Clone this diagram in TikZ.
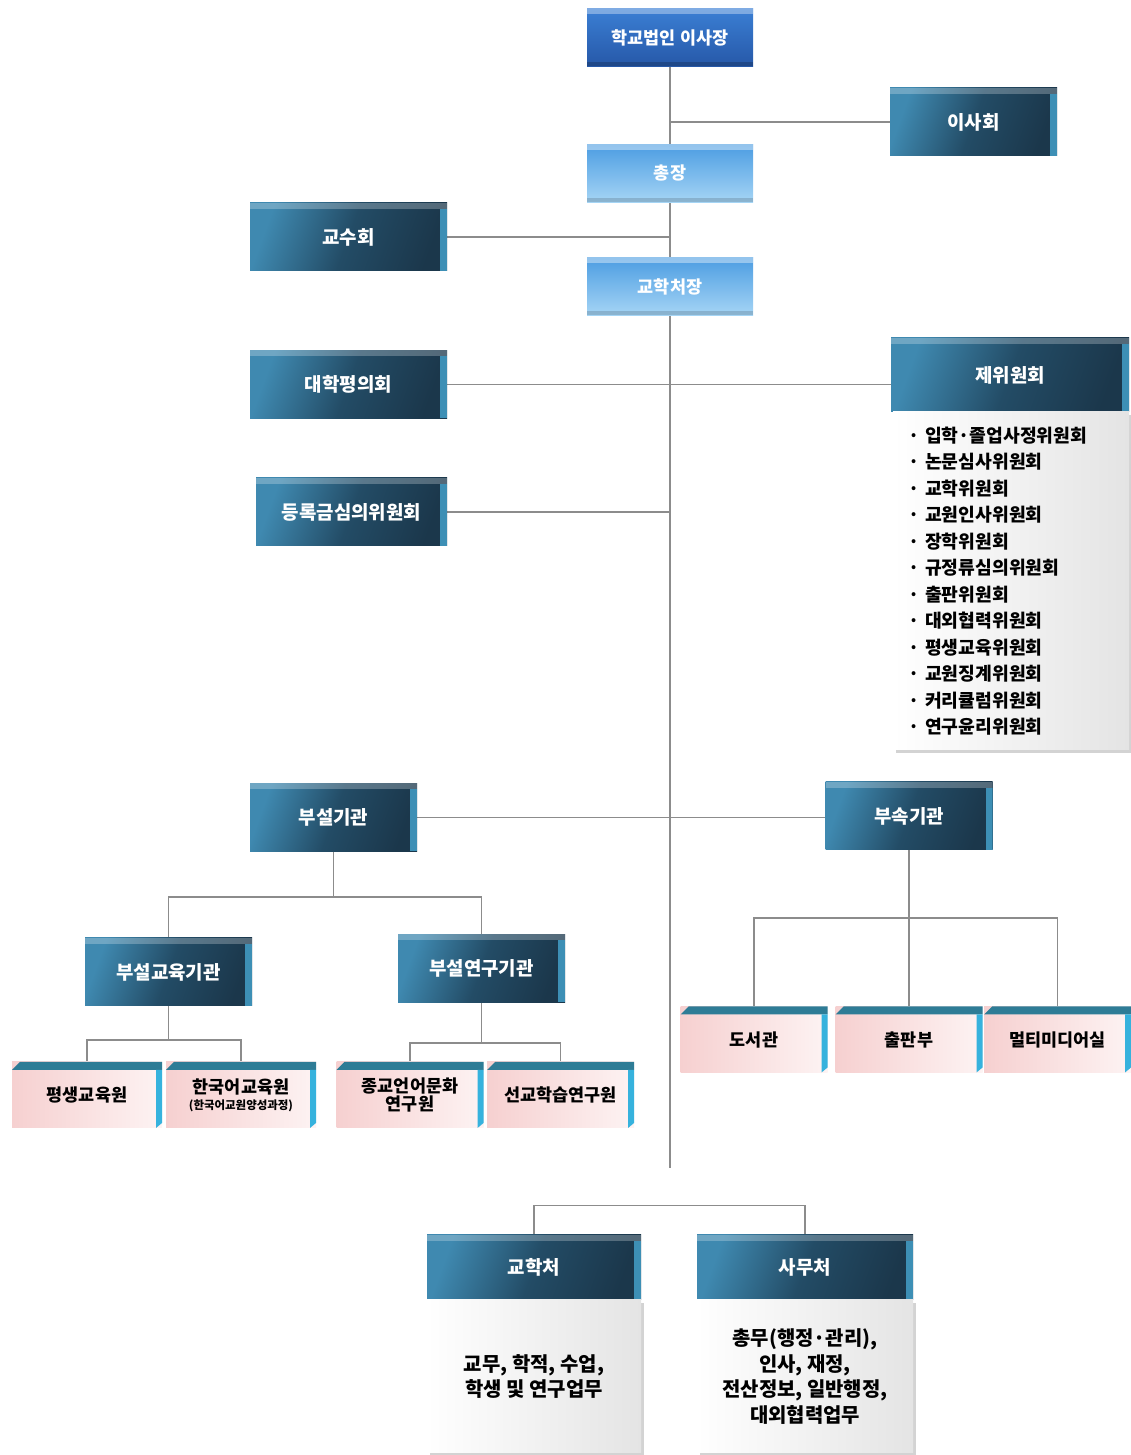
\documentclass[tikz,border=0pt]{standalone}
\usepackage{fontspec}
\setmainfont{Noto Sans CJK KR}
\usepackage{tikz}
\usetikzlibrary{backgrounds}
\usetikzlibrary{shadows}
\definecolor{linegray}{rgb}{0.55,0.55,0.55}
\definecolor{tealhi}{HTML}{3F89B0}
\definecolor{tealmd}{HTML}{234C66}
\definecolor{tealdk}{HTML}{1B374B}
\definecolor{tealside}{HTML}{3D8FB5}
\definecolor{bluehi}{HTML}{3B7FD4}
\definecolor{bluedk}{HTML}{2658A8}
\definecolor{skyhi}{HTML}{4C9DE2}
\definecolor{skylo}{HTML}{A6D5F5}
\definecolor{pinkdk}{HTML}{F6D0D0}
\definecolor{pinklt}{HTML}{FDF3F3}
\definecolor{leafbar}{HTML}{2E7C96}
\definecolor{leafside}{HTML}{36B2DD}
\definecolor{sheetgray}{HTML}{E4E4E4}
\tikzset{conn/.style={draw=linegray, line width=1.2bp},
  box/.style={rectangle, inner sep=0pt, align=center},
  topsize/.style={minimum width=166bp, minimum height=58bp},
  sidesize/.style={minimum width=197bp, minimum height=68bp},
  unitsize/.style={minimum width=167bp, minimum height=68bp},
  leafsize/.style={minimum width=147bp, minimum height=66bp},
  darkbox/.style={box, text=white, font=\bfseries\fontsize{19}{22}\selectfont,
    left color=tealhi, right color=tealdk, middle color=tealmd, shading angle=70,
    path picture={
      \fill[white,opacity=.25] (path picture bounding box.north west) rectangle ([yshift=-6bp]path picture bounding box.north east);
      \fill[tealside] ([xshift=-7bp,yshift=-6bp]path picture bounding box.north east) rectangle (path picture bounding box.south east);}},
  chairbox/.style={box, text=white, font=\bfseries\fontsize{17.5}{20}\selectfont,
    top color=bluehi, bottom color=bluedk,
    path picture={
      \fill[white,opacity=.35] (path picture bounding box.north west) rectangle ([yshift=-6bp]path picture bounding box.north east);
      \fill[black,opacity=.2] ([yshift=4bp]path picture bounding box.south west) rectangle (path picture bounding box.south east);}},
  skybox/.style={box, text=white, font=\bfseries\fontsize{17.5}{20}\selectfont,
    top color=skyhi, bottom color=skylo,
    path picture={
      \fill[white,opacity=.4] (path picture bounding box.north west) rectangle ([yshift=-6bp]path picture bounding box.north east);
      \fill[black,opacity=.15] ([yshift=4bp]path picture bounding box.south west) rectangle (path picture bounding box.south east);}},
  leafbox/.style={box, leafsize, font=\bfseries\fontsize{17.5}{20}\selectfont,
    left color=pinkdk, right color=pinklt,
    path picture={
      \fill[leafbar] ([yshift=-8bp]path picture bounding box.north west) -- ([xshift=8bp]path picture bounding box.north west) -- (path picture bounding box.north east) -- ([yshift=-8bp]path picture bounding box.north east) -- cycle;
      \fill[leafside] ([xshift=-6bp,yshift=-8bp]path picture bounding box.north east) -- ([yshift=-8bp]path picture bounding box.north east) -- ([yshift=5bp]path picture bounding box.south east) -- ([xshift=-6bp]path picture bounding box.south east) -- cycle;}},
  sheet/.style={box, left color=white, right color=sheetgray,
    drop shadow={shadow xshift=3bp, shadow yshift=-3bp, opacity=.35},
    font=\bfseries\fontsize{20}{26}\selectfont},
  listsheet/.style={sheet, align=left, text width=206bp, inner xsep=15bp,
    font=\bfseries\fontsize{18.3}{26.6}\selectfont}
}
\begin{document}
\begin{tikzpicture}[line join=bevel]
%%
\useasboundingbox (0bp,0bp) rectangle (1131bp,1455bp);
\node (chair) at (670bp,1417.5bp) [chairbox, topsize] {학교법인 이사장};
  \node (board) at (973.5bp,1333bp) [darkbox, unitsize] {이사회};
  \node (pres) at (670bp,1281.5bp) [skybox, topsize] {총장};
  \node (faculty) at (348.5bp,1218bp) [darkbox, sidesize] {교수회};
  \node (dean) at (670bp,1168.5bp) [skybox, topsize] {교학처장};
  \node (senate) at (348.5bp,1070.5bp) [darkbox, sidesize] {대학평의회};
  \node (cmte) at (1010bp,1080bp) [darkbox, minimum width=238bp, minimum height=74bp] {제위원회};
  \node (cmtelist) at (1011bp,874bp) [listsheet, minimum height=338bp] {%
    · 입학·졸업사정위원회\\ · 논문심사위원회\\ · 교학위원회\\ · 교원인사위원회\\
    · 장학위원회\\ · 규정류심의위원회\\ · 출판위원회\\ · 대외협력위원회\\
    · 평생교육위원회\\ · 교원징계위원회\\ · 커리큘럼위원회\\ · 연구윤리위원회};
  \node (tuition) at (351.5bp,943bp) [darkbox, minimum width=191bp, minimum height=68bp] {등록금심의위원회};
  \node (affil) at (333.5bp,637.5bp) [darkbox, unitsize] {부설기관};
  \node (attach) at (909bp,639bp) [darkbox, unitsize] {부속기관};
  \node (edu) at (168.5bp,483bp) [darkbox, unitsize] {부설교육기관};
  \node (res) at (481.5bp,486.5bp) [darkbox, unitsize] {부설연구기관};
  \node (lifelong) at (87bp,360bp) [leafbox, minimum width=150bp] {평생교육원};
  \node (korean) at (241bp,360bp) [leafbox, minimum width=150bp] {한국어교육원\\[-4bp]{\fontsize{11.5}{13}\selectfont (한국어교원양성과정)}};
  \node (relig) at (410bp,360bp) [leafbox] {종교언어문화\\[-2bp]연구원};
  \node (mission) at (560.5bp,360bp) [leafbox] {선교학습연구원};
  \node (lib) at (754bp,415.5bp) [leafbox] {도서관};
  \node (press) at (909bp,415.5bp) [leafbox] {출판부};
  \node (media) at (1057.5bp,415.5bp) [leafbox] {멀티미디어실};
  \node (acad) at (534bp,187.5bp) [darkbox, minimum width=214bp, minimum height=65bp] {교학처};
  \node (acadbody) at (534bp,78.5bp) [sheet, minimum width=214bp, minimum height=153bp] {교무, 학적, 수업,\\학생 및 연구업무};
  \node (admin) at (805bp,187.5bp) [darkbox, minimum width=216bp, minimum height=65bp] {사무처};
  \node (adminbody) at (805bp,78.5bp) [sheet, minimum width=216bp, minimum height=153bp] {총무(행정·관리),\\인사, 재정,\\전산정보, 일반행정,\\대외협력업무};
  \coordinate (spineend) at (670bp,287bp);
  \coordinate (affilbus) at (333.5bp,558bp);
  \coordinate (edubus) at (168.5bp,415bp);
  \coordinate (resbus) at (481.5bp,412bp);
  \coordinate (attachbus) at (909bp,537bp);
\begin{scope}[on background layer]
  \draw [conn] (chair.south) -- (spineend);
  \draw [conn] (board.west) -- (board.west -| spineend);
  \draw [conn] (faculty.east) -- (faculty.east -| spineend);
  \draw [conn] (senate.east) -- (senate.east -| cmte.west);
  \draw [conn] (tuition.east) -- (tuition.east -| spineend);
  \draw [conn] (affil.east) -- (affil.east -| attach.west);
  \draw [conn] (affil.south) -- (affilbus);
  \draw [conn] (edu.north) |- (affilbus) -| (res.north);
  \draw [conn] (edu.south) -- (edubus);
  \draw [conn] (lifelong.north) |- (edubus) -| (korean.north);
  \draw [conn] (res.south) -- (resbus);
  \draw [conn] (relig.north) |- (resbus) -| (mission.north);
  \draw [conn] (attach.south) -- (press.north);
  \draw [conn] (lib.north) |- (attachbus) -| (media.north);
  \draw [conn] (acad.north) -- ++(0bp,29bp) -| (admin.north);
\end{scope}
%
\end{tikzpicture}
\end{document}
